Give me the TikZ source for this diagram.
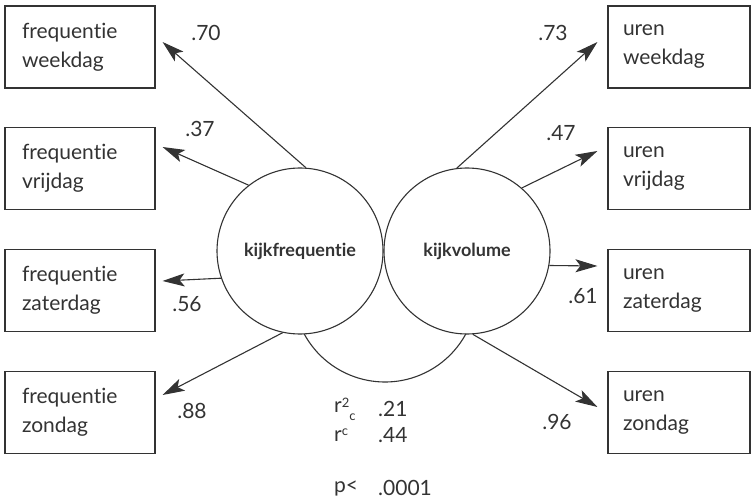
\documentclass[tikz,border=0pt]{standalone}
\usepackage{fontspec}
\setmainfont[Ligatures={NoCommon}]{Lato}
\usetikzlibrary{arrows.meta,calc}
\definecolor{ink}{HTML}{333333}
\begin{document}
\begin{tikzpicture}[x=1pt,y=-1pt,
  every node/.style={text=ink, font=\fontsize{21}{29}\selectfont},
  obsl/.style={draw=ink, line width=1.1pt, minimum height=82pt, align=left,
    inner xsep=17pt, text width=116pt, inner ysep=0pt},
  obsr/.style={draw=ink, line width=1.1pt, minimum height=82pt, align=left,
    inner xsep=15pt, text width=112pt, inner ysep=0pt},
  lat/.style={draw=ink, line width=1.1pt, circle, minimum size=166pt, inner sep=0pt,
    font=\fontsize{18}{22}\selectfont\bfseries},
  load/.style={draw=ink, line width=1.1pt, -{Stealth[length=22pt,width=13pt,inset=5pt]}},
  lbl/.style={inner sep=0pt},
]
\useasboundingbox (0,0) rectangle (751,502);
% observed boxes
\node[obsl] (fw) at (80,47)    {frequentie\\weekdag};
\node[obsl] (fv) at (80,168.5) {frequentie\\vrijdag};
\node[obsl] (fz) at (80,290.5) {frequentie\\zaterdag};
\node[obsl] (fs) at (80,412.5) {frequentie\\zondag};
\node[obsr] (uw) at (679,47)    {uren\\weekdag};
\node[obsr] (uv) at (679,168.5) {uren\\vrijdag};
\node[obsr] (uz) at (679,290.5) {uren\\zaterdag};
\node[obsr] (us) at (679,412.5) {uren\\zondag};
% latent
\node[lat] (L) at (300,251) {kijkfrequentie};
\node[lat] (R) at (467,251) {kijkvolume};
% arrow tips
\coordinate (tfw) at ([shift={(7pt,5pt)}]fw.east);
\coordinate (tfv) at ([shift={(7pt,21.5pt)}]fv.east);
\coordinate (tfz) at ([shift={(7pt,9.5pt)}]fz.east);
\coordinate (tfs) at ([shift={(7pt,17.5pt)}]fs.east);
\coordinate (tuw) at ([shift={(-10pt,5pt)}]uw.west);
\coordinate (tuv) at ([shift={(-10pt,17.5pt)}]uv.west);
\coordinate (tuz) at ([shift={(-10pt,24.5pt)}]uz.west);
\coordinate (tus) at ([shift={(-10pt,5.5pt)}]us.west);
\draw[load] (L.86)  -- (tfw);
\draw[load] (L.128) -- (tfv);
\draw[load] (L.199) -- (tfz);
\draw[load] (L.258) -- (tfs);
\draw[load] (R.97)  -- (tuw);
\draw[load] (R.49)  -- (tuv);
\draw[load] (R.-10) -- (tuz);
\draw[load] (R.-86.6) -- (tus);
% correlation arc
\draw[ink, line width=1.1pt] (385,290) ++(208.5:92pt) arc[start angle=208.5, end angle=331.5, radius=92pt];
% loadings
\node[lbl] (l1) at (206,33)  {.70};
\node[lbl] (l2) at (200,129) {.37};
\node[lbl] (l3) at (187,304) {.56};
\node[lbl] (l4) at (192,411) {.88};
\node[lbl] (r1) at (553,33)  {.73};
\node[lbl] (r2) at (561,133) {.47};
\node[lbl] (r3) at (583,296) {.61};
\node[lbl] (r4) at (557,422) {.96};
% statistics
\node[lbl, anchor=west] (s1) at (334,409) {r\raisebox{0.55ex}{\fontsize{13}{13}\selectfont 2}\raisebox{-0.7ex}{\fontsize{13}{13}\selectfont c}};
\node[lbl, anchor=west] (s1v) at (378,409) {.21};
\node[lbl, anchor=west] (s2) at (334,435) {r\raisebox{0.55ex}{\fontsize{13}{13}\selectfont c}};
\node[lbl, anchor=west] (s2v) at (378,435) {.44};
\node[lbl, anchor=west] (s3) at (334,488) {p<};
\node[lbl, anchor=west] (s3v) at (378,488) {.0001};
\end{tikzpicture}
\end{document}
